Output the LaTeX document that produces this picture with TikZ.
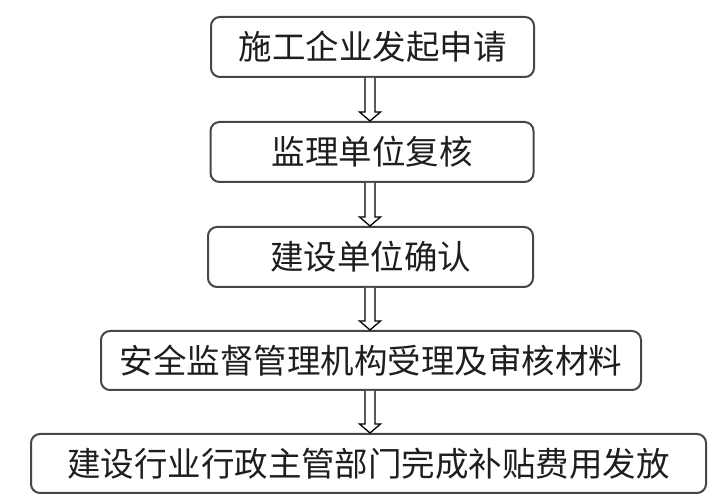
\documentclass[tikz,border=0pt]{standalone}
\usepackage{fontspec}
\newfontfamily\cjk{Noto Sans CJK SC}
\usetikzlibrary{calc}
\definecolor{boxline}{HTML}{464646}
\definecolor{txt}{HTML}{1E1E1E}
\begin{document}
\begin{tikzpicture}[x=1pt,y=1pt,
  stepbox/.style={draw=boxline,line width=2pt,rounded corners=9pt,
    minimum height=60pt,inner sep=0pt,text=txt,
    font=\cjk\fontsize{33.5}{33.5}\selectfont},
  hollow/.style={draw=black,line width=1.3pt,fill=white,line join=miter}]
\useasboundingbox (0,0) rectangle (718,503);
\node[stepbox,minimum width=323pt] (a) at (372.5,456) {施工企业发起申请};
\node[stepbox,minimum width=323pt] (b) at (372,351) {监理单位复核};
\node[stepbox,minimum width=325pt] (c) at (370.5,246) {建设单位确认};
\node[stepbox,minimum width=540pt,minimum height=59pt] (d) at (371,142.5) {安全监督管理机构受理及审核材料};
\node[stepbox,minimum width=675pt,minimum height=59pt] (e) at (368.5,39.5) {建设行业行政主管部门完成补贴费用发放};
\coordinate (ax) at (370,0);
\foreach \u/\v in {a/b,b/c,c/d,d/e}{
  \draw[hollow] ($(\u.south -| ax)+(-5,0)$) -- ($(\v.north -| ax)+(-5,9)$)
    -- ($(\v.north -| ax)+(-10.5,9)$) -- (\v.north -| ax)
    -- ($(\v.north -| ax)+(10.5,9)$) -- ($(\v.north -| ax)+(5,9)$)
    -- ($(\u.south -| ax)+(5,0)$);
}
\end{tikzpicture}
\end{document}
